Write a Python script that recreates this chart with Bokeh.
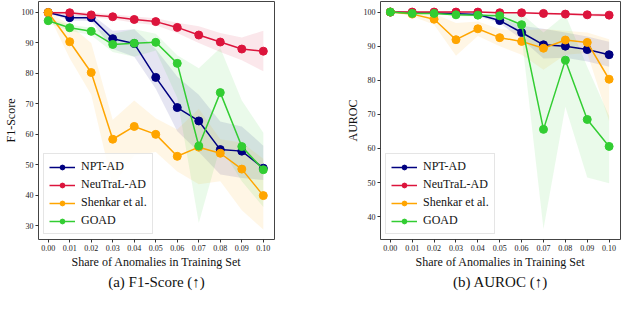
from bokeh.plotting import figure
from bokeh.layouts import row
from bokeh.models import FixedTicker, Legend, LegendItem
from bokeh.embed import file_html
from bokeh.resources import INLINE

# ---------------- data ----------------
share = [0.00, 0.01, 0.02, 0.03, 0.04, 0.05, 0.06, 0.07, 0.08, 0.09, 0.10]
x_ticks = [0.00, 0.01, 0.02, 0.03, 0.04, 0.05, 0.06, 0.07, 0.08, 0.09, 0.10]
x_labels = ["0.00", "0.01", "0.02", "0.03", "0.04", "0.05", "0.06", "0.07", "0.08", "0.09", "0.10"]
f1_ticks = [30, 40, 50, 60, 70, 80, 90, 100]
auroc_ticks = [40, 50, 60, 70, 80, 90, 100]

methods = ["NPT-AD", "NeuTraL-AD", "Shenkar et al.", "GOAD"]
colors = ["#000080", "#DC143C", "#FFA500", "#32CD32"]

# F1-Score
f1_npt = [100.0, 98.3, 98.3, 91.4, 89.8, 78.7, 68.8, 64.4, 55.0, 54.5, 48.9]
f1_npt_lo = [99.7, 97.4, 97.2, 88.0, 85.5, 75.0, 61.0, 54.2, 46.8, 45.7, 45.0]
f1_npt_hi = [100.3, 99.2, 99.4, 94.0, 94.5, 88.0, 79.0, 73.0, 64.2, 62.6, 56.3]

f1_neutral = [99.9, 99.9, 99.2, 98.6, 97.7, 97.0, 95.1, 92.6, 90.3, 88.0, 87.3]
f1_neutral_lo = [99.4, 99.3, 98.4, 97.8, 96.6, 95.8, 93.3, 90.0, 87.0, 84.3, 80.7]
f1_neutral_hi = [100.3, 100.4, 99.9, 99.4, 98.7, 98.1, 96.6, 95.5, 93.3, 91.8, 94.0]

f1_shenkar = [100.0, 90.4, 80.3, 58.4, 62.6, 60.0, 52.8, 55.8, 53.8, 48.6, 39.9]
f1_shenkar_lo = [99.6, 85.0, 73.0, 43.0, 53.1, 54.2, 47.8, 43.6, 44.6, 35.1, 28.8]
f1_shenkar_hi = [100.3, 96.0, 90.0, 64.8, 71.1, 65.3, 61.6, 68.4, 58.4, 57.3, 52.0]

f1_goad = [97.3, 95.0, 93.8, 89.5, 89.9, 90.2, 83.3, 56.2, 73.7, 56.0, 48.4]
f1_goad_lo = [96.5, 94.0, 92.5, 87.0, 85.5, 87.5, 72.0, 30.9, 56.0, 44.6, 36.2]
f1_goad_hi = [98.0, 96.0, 95.0, 93.0, 94.5, 93.0, 86.0, 81.7, 88.3, 71.1, 60.5]

# AUROC
au_npt = [100.0, 99.8, 99.7, 99.5, 99.3, 97.5, 94.0, 90.4, 90.0, 89.0, 87.5]
au_npt_lo = [99.9, 99.6, 99.4, 99.1, 98.8, 96.8, 92.0, 86.4, 86.6, 85.5, 84.0]
au_npt_hi = [100.1, 100.0, 100.0, 99.9, 99.8, 98.3, 96.0, 95.1, 94.0, 92.8, 91.3]

au_neutral = [100.0, 100.0, 100.0, 100.0, 100.0, 99.8, 99.8, 99.6, 99.4, 99.2, 99.1]
au_neutral_lo = [99.8, 99.8, 99.8, 99.8, 99.8, 99.6, 99.5, 99.3, 99.0, 98.8, 98.6]
au_neutral_hi = [100.2, 100.2, 100.2, 100.2, 100.2, 100.0, 100.0, 99.9, 99.7, 99.6, 99.6]

au_shenkar = [100.0, 99.4, 97.9, 91.9, 95.1, 92.5, 91.4, 89.4, 91.8, 91.1, 80.3]
au_shenkar_lo = [99.9, 98.8, 96.3, 87.2, 93.0, 90.0, 87.5, 83.1, 87.5, 88.0, 68.0]
au_shenkar_hi = [100.1, 100.0, 99.5, 96.8, 97.2, 95.0, 94.5, 95.0, 94.5, 94.0, 92.0]

au_goad = [100.0, 99.6, 99.6, 99.2, 99.1, 98.9, 96.3, 65.6, 85.9, 68.5, 60.6]
au_goad_lo = [99.9, 99.4, 99.4, 98.8, 98.7, 98.3, 93.0, 36.4, 72.2, 51.5, 49.8]
au_goad_hi = [100.1, 99.8, 99.8, 99.6, 99.5, 99.4, 99.5, 94.0, 99.2, 84.0, 69.5]

FONT = "Liberation Serif"


def make(series, y_range, y_ticks, y_label, caption, width, border_left, border_right):
    p = figure(width=width, height=294, output_backend="svg", toolbar_location=None,
               x_range=(-0.0045, 0.1052), y_range=y_range,
               title=caption, title_location="below",
               min_border_left=border_left, min_border_right=border_right,
               min_border_top=1, min_border_bottom=0)
    p.title.text_font = FONT
    p.title.text_font_size = "15px"
    p.title.text_font_style = "normal"
    p.title.align = "center"
    p.title.vertical_align = "top"
    p.title.standoff = 5
    p.title.text_color = "#111111"
    p.grid.visible = False
    p.outline_line_color = "#444444"
    p.outline_line_width = 1
    p.background_fill_color = "white"
    p.border_fill_color = "white"

    for ax in (p.xaxis[0], p.yaxis[0]):
        ax.axis_line_color = None
        ax.major_tick_in = 0
        ax.major_tick_out = 3
        ax.minor_tick_out = 0
        ax.minor_tick_in = 0
        ax.major_tick_line_color = "#333333"
        ax.major_label_text_font = FONT
        ax.major_label_text_font_size = "8px"
        ax.major_label_text_color = "#222222"
        ax.axis_label_text_font = FONT
        ax.axis_label_text_font_size = "12px"
        ax.axis_label_text_font_style = "normal"
        ax.axis_label_text_color = "#111111"
        ax.major_label_standoff = 2
        ax.axis_label_standoff = 1

    p.xaxis.ticker = FixedTicker(ticks=x_ticks)
    p.xaxis.major_label_overrides = dict(zip(x_ticks, x_labels))
    p.xaxis.axis_label = "Share of Anomalies in Training Set"
    p.yaxis.ticker = FixedTicker(ticks=y_ticks)
    p.yaxis.axis_label = y_label

    for (mean, lo, hi), c in zip(series, colors):
        p.varea(x=share, y1=lo, y2=hi, fill_color=c, fill_alpha=0.1)

    items = []
    for (mean, lo, hi), c, name in zip(series, colors, methods):
        ln = p.line(share, mean, line_color=c, line_width=1.5)
        sc = p.scatter(share, mean, size=8, fill_color=c, line_color=c)
        items.append(LegendItem(label=name, renderers=[ln, sc]))

    legend = Legend(items=items, location="bottom_left")
    legend.label_text_font = FONT
    legend.label_text_font_size = "12px"
    legend.label_text_color = "#111111"
    legend.border_line_color = "#cccccc"
    legend.border_line_width = 1
    legend.background_fill_alpha = 0.85
    legend.glyph_width = 26
    legend.glyph_height = 12
    legend.label_height = 12
    legend.spacing = 3
    legend.padding = 5
    legend.margin = 5
    legend.label_standoff = 6
    p.add_layout(legend)
    return p


f1_series = [(f1_npt, f1_npt_lo, f1_npt_hi),
             (f1_neutral, f1_neutral_lo, f1_neutral_hi),
             (f1_shenkar, f1_shenkar_lo, f1_shenkar_hi),
             (f1_goad, f1_goad_lo, f1_goad_hi)]
au_series = [(au_npt, au_npt_lo, au_npt_hi),
             (au_neutral, au_neutral_lo, au_neutral_hi),
             (au_shenkar, au_shenkar_lo, au_shenkar_hi),
             (au_goad, au_goad_lo, au_goad_hi)]

p1 = make(f1_series, (25.5, 103.6), f1_ticks, "F1-Score", "(a) F1-Score (↑)", 304, 34, 30)
p2 = make(au_series, (33.3, 103.1), auroc_ticks, "AUROC", "(b) AUROC (↑)", 320, 76, 4)

layout = row(p1, p2)
open("out.html", "w").write(file_html(layout, INLINE))
